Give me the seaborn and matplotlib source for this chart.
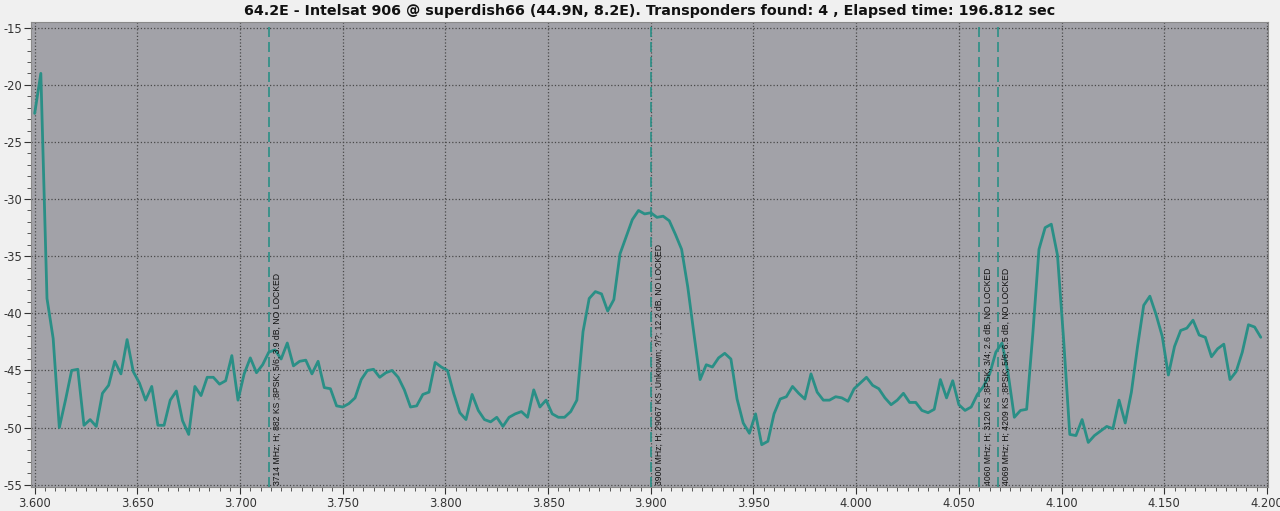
import numpy as np
import pandas as pd
import matplotlib
matplotlib.use("Agg")
import matplotlib.pyplot as plt
from matplotlib.ticker import MultipleLocator, FormatStrFormatter
import seaborn as sns


# scan grid, GHz (3 MHz steps from 3600 MHz)
freq_mhz = np.arange(3600, 4200, 3)

level_db = [
    -22.5, -19.0, -38.7, -42.2, -50.0, -47.6, -45.0, -44.9, -49.8, -49.3,
    -49.9, -47.0, -46.3, -44.2, -45.3, -42.3, -45.1, -46.1, -47.6, -46.4,
    -49.8, -49.8, -47.6, -46.8, -49.4, -50.6, -46.4, -47.2, -45.6, -45.6,
    -46.2, -45.9, -43.7, -47.6, -45.3, -43.9, -45.2, -44.5, -43.4, -43.2,
    -44.0, -42.6, -44.6, -44.2, -44.1, -45.3, -44.2, -46.5, -46.6, -48.1,
    -48.2, -47.9, -47.4, -45.8, -45.0, -44.9, -45.6, -45.2, -45.0, -45.6,
    -46.7, -48.2, -48.1, -47.1, -46.9, -44.3, -44.7, -45.0, -47.0, -48.7,
    -49.3, -47.1, -48.5, -49.3, -49.5, -49.1, -49.9, -49.1, -48.8, -48.6,
    -49.1, -46.7, -48.2, -47.6, -48.8, -49.1, -49.1, -48.6, -47.6, -41.6,
    -38.7, -38.1, -38.3, -39.8, -38.8, -34.8, -33.3, -31.8, -31.0, -31.3,
    -31.2, -31.6, -31.5, -31.9, -33.1, -34.4, -37.7, -41.8, -45.8, -44.5,
    -44.7, -43.9, -43.5, -44.0, -47.5, -49.6, -50.5, -48.8, -51.5, -51.2,
    -48.8, -47.5, -47.3, -46.4, -47.0, -47.5, -45.3, -46.9, -47.6, -47.6,
    -47.3, -47.4, -47.7, -46.6, -46.1, -45.6, -46.3, -46.6, -47.4, -48.0,
    -47.6, -47.0, -47.8, -47.8, -48.5, -48.7, -48.4, -45.8, -47.4, -45.9,
    -48.0, -48.5, -48.2, -47.1, -46.4, -45.3, -43.4, -42.6, -45.3, -49.1,
    -48.5, -48.4, -41.8, -34.4, -32.5, -32.2, -34.9, -42.3, -50.6, -50.7,
    -49.3, -51.3, -50.7, -50.3, -49.9, -50.1, -47.6, -49.6, -46.9, -42.9,
    -39.3, -38.5, -40.1, -42.0, -45.4, -42.9, -41.5, -41.3, -40.6, -41.9,
    -42.1, -43.8, -43.1, -42.7, -45.8, -45.1, -43.4, -41.0, -41.2, -42.1,
]

tp_freq_mhz = [3714, 3900, 4060, 4069]
tp_labels = [
    "3714 MHz; H; 882 KS ;8PSK; 5/6; 3.9 dB, NO LOCKED",
    "3900 MHz; H; 29067 KS ;Unknown; ?/?; 12.2 dB, NO LOCKED",
    "4060 MHz; H; 3120 KS ;8PSK; 3/4; 2.6 dB, NO LOCKED",
    "4069 MHz; H; 4209 KS ;8PSK; 5/6; 6.5 dB, NO LOCKED",
]

title = ("64.2E - Intelsat 906 @ superdish66 (44.9N, 8.2E). "
         "Transponders found: 4 , Elapsed time: 196.812 sec")

df = pd.DataFrame({"freq": freq_mhz / 1000.0, "level": level_db})

sns.set_style("ticks", {
    "axes.facecolor": "#a2a2a8",
    "figure.facecolor": "#f0f0f0",
    "axes.edgecolor": "#8a8a8a",
})
plt.rcParams["axes.unicode_minus"] = False

line_color = "#2a8f86"

fig = plt.figure(figsize=(12.8, 5.11), dpi=100)
ax = fig.add_axes([0.0242, 0.047, 0.9664, 0.910])

sns.lineplot(data=df, x="freq", y="level", color=line_color, linewidth=2.0, ax=ax)

for f, lab in zip(tp_freq_mhz, tp_labels):
    ax.axvline(f / 1000.0, color=line_color, linestyle=(0, (6, 3)), linewidth=1.2)
    ax.text(f / 1000.0 + 0.0019, -55.0, lab, rotation=90, ha="left", va="bottom",
            fontsize=6.2, family="Liberation Sans", color="#111111")

ax.set_xlim(3.5982, 4.2005)
ax.set_ylim(-55.2, -14.5)

ax.xaxis.set_major_locator(MultipleLocator(0.05))
ax.xaxis.set_minor_locator(MultipleLocator(0.005))
ax.xaxis.set_major_formatter(FormatStrFormatter("%.3f"))
ax.yaxis.set_major_locator(MultipleLocator(5))
ax.yaxis.set_minor_locator(MultipleLocator(1))

ax.grid(which="major", color="#4a4a4a", linestyle=":", linewidth=0.9)
ax.tick_params(which="major", length=5, width=0.8, color="#333333",
               labelsize=8.3, labelcolor="#333333", pad=2)
ax.tick_params(axis="y", which="major", pad=1.5)
ax.tick_params(which="minor", length=3, width=0.7, color="#555555")

ax.set_xlabel("")
ax.set_ylabel("")
ax.set_title(title, fontsize=10.3, fontweight="bold", pad=5, color="#111111")

fig.savefig("out.png", dpi=100, facecolor=fig.get_facecolor())
